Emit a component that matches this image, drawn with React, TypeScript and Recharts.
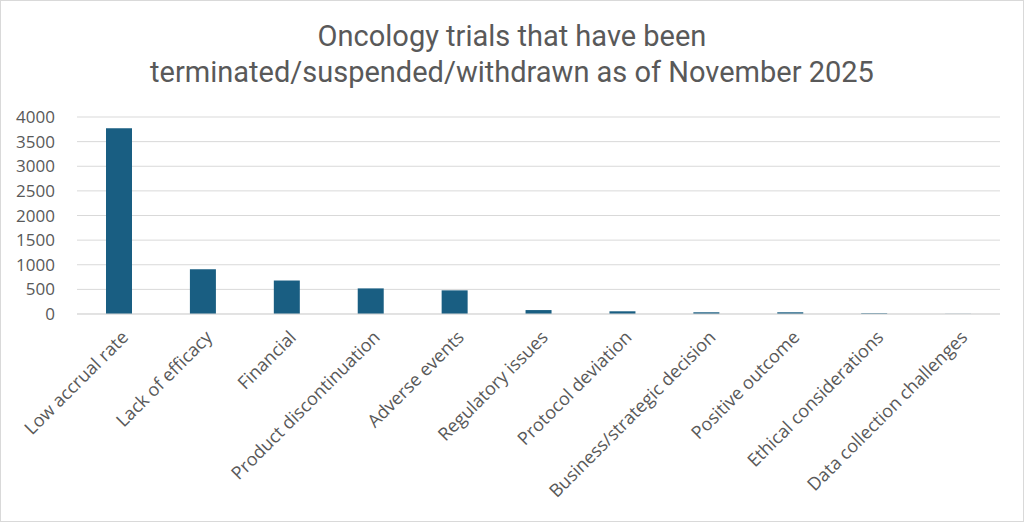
import { BarChart, Bar, XAxis, YAxis, CartesianGrid } from 'recharts';

const CATEGORIES = [
  'Low accrual rate',
  'Lack of efficacy',
  'Financial',
  'Product discontinuation',
  'Adverse events',
  'Regulatory issues',
  'Protocol deviation',
  'Business/strategic decision',
  'Positive outcome',
  'Ethical considerations',
  'Data collection challenges',
];
const TRIALS = [3770, 910, 680, 520, 480, 80, 55, 35, 35, 15, 3];
const Y_TICKS = [0, 500, 1000, 1500, 2000, 2500, 3000, 3500, 4000];

const data = CATEGORIES.map((name, i) => ({ name, value: TRIALS[i] }));

const FONT = '"Open Sans", "Liberation Sans", sans-serif';
const TITLE_FONT = 'Roboto, "Liberation Sans", sans-serif';
const TEXT = '#595959';

function AngledTick({ x, y, payload }: any) {
  return (
    <g transform={`translate(${x + 6},${y + 12})`}>
      <text
        textAnchor="end"
        transform="rotate(-45)"
        fontSize={18}
        fontFamily={FONT}
        fill={TEXT}
        dy="0.35em"
      >
        {payload.value}
      </text>
    </g>
  );
}

export default function App() {
  return (
    <div
      style={{
        position: 'absolute',
        top: 0,
        left: 0,
        width: 1024,
        height: 522,
        border: '1px solid #d9d9d9',
        boxSizing: 'border-box',
        background: '#fff',
      }}
    >
      <div
        style={{
          position: 'absolute',
          top: 17,
          left: 0,
          width: '100%',
          textAlign: 'center',
          fontFamily: TITLE_FONT,
          fontSize: 29,
          lineHeight: '36px',
          color: TEXT,
        }}
      >
        Oncology trials that have been
        <br />
        terminated/suspended/withdrawn as of November 2025
      </div>
      <BarChart
        width={1022}
        height={520}
        data={data}
        margin={{ top: 116, right: 23, bottom: 0, left: 0 }}
        barSize={26}
      >
        <CartesianGrid vertical={false} stroke="#d9d9d9" />
        <XAxis
          dataKey="name"
          interval={0}
          height={207}
          tickLine={false}
          axisLine={{ stroke: '#d9d9d9' }}
          tick={<AngledTick />}
        />
        <YAxis
          domain={[0, 4000]}
          ticks={Y_TICKS}
          interval={0}
          width={76}
          axisLine={false}
          tickLine={false}
          tick={{ fontSize: 17, fontFamily: FONT, fill: TEXT }}
          tickMargin={16}
        />
        <Bar dataKey="value" fill="#195e82" isAnimationActive={false} />
      </BarChart>
    </div>
  );
}
